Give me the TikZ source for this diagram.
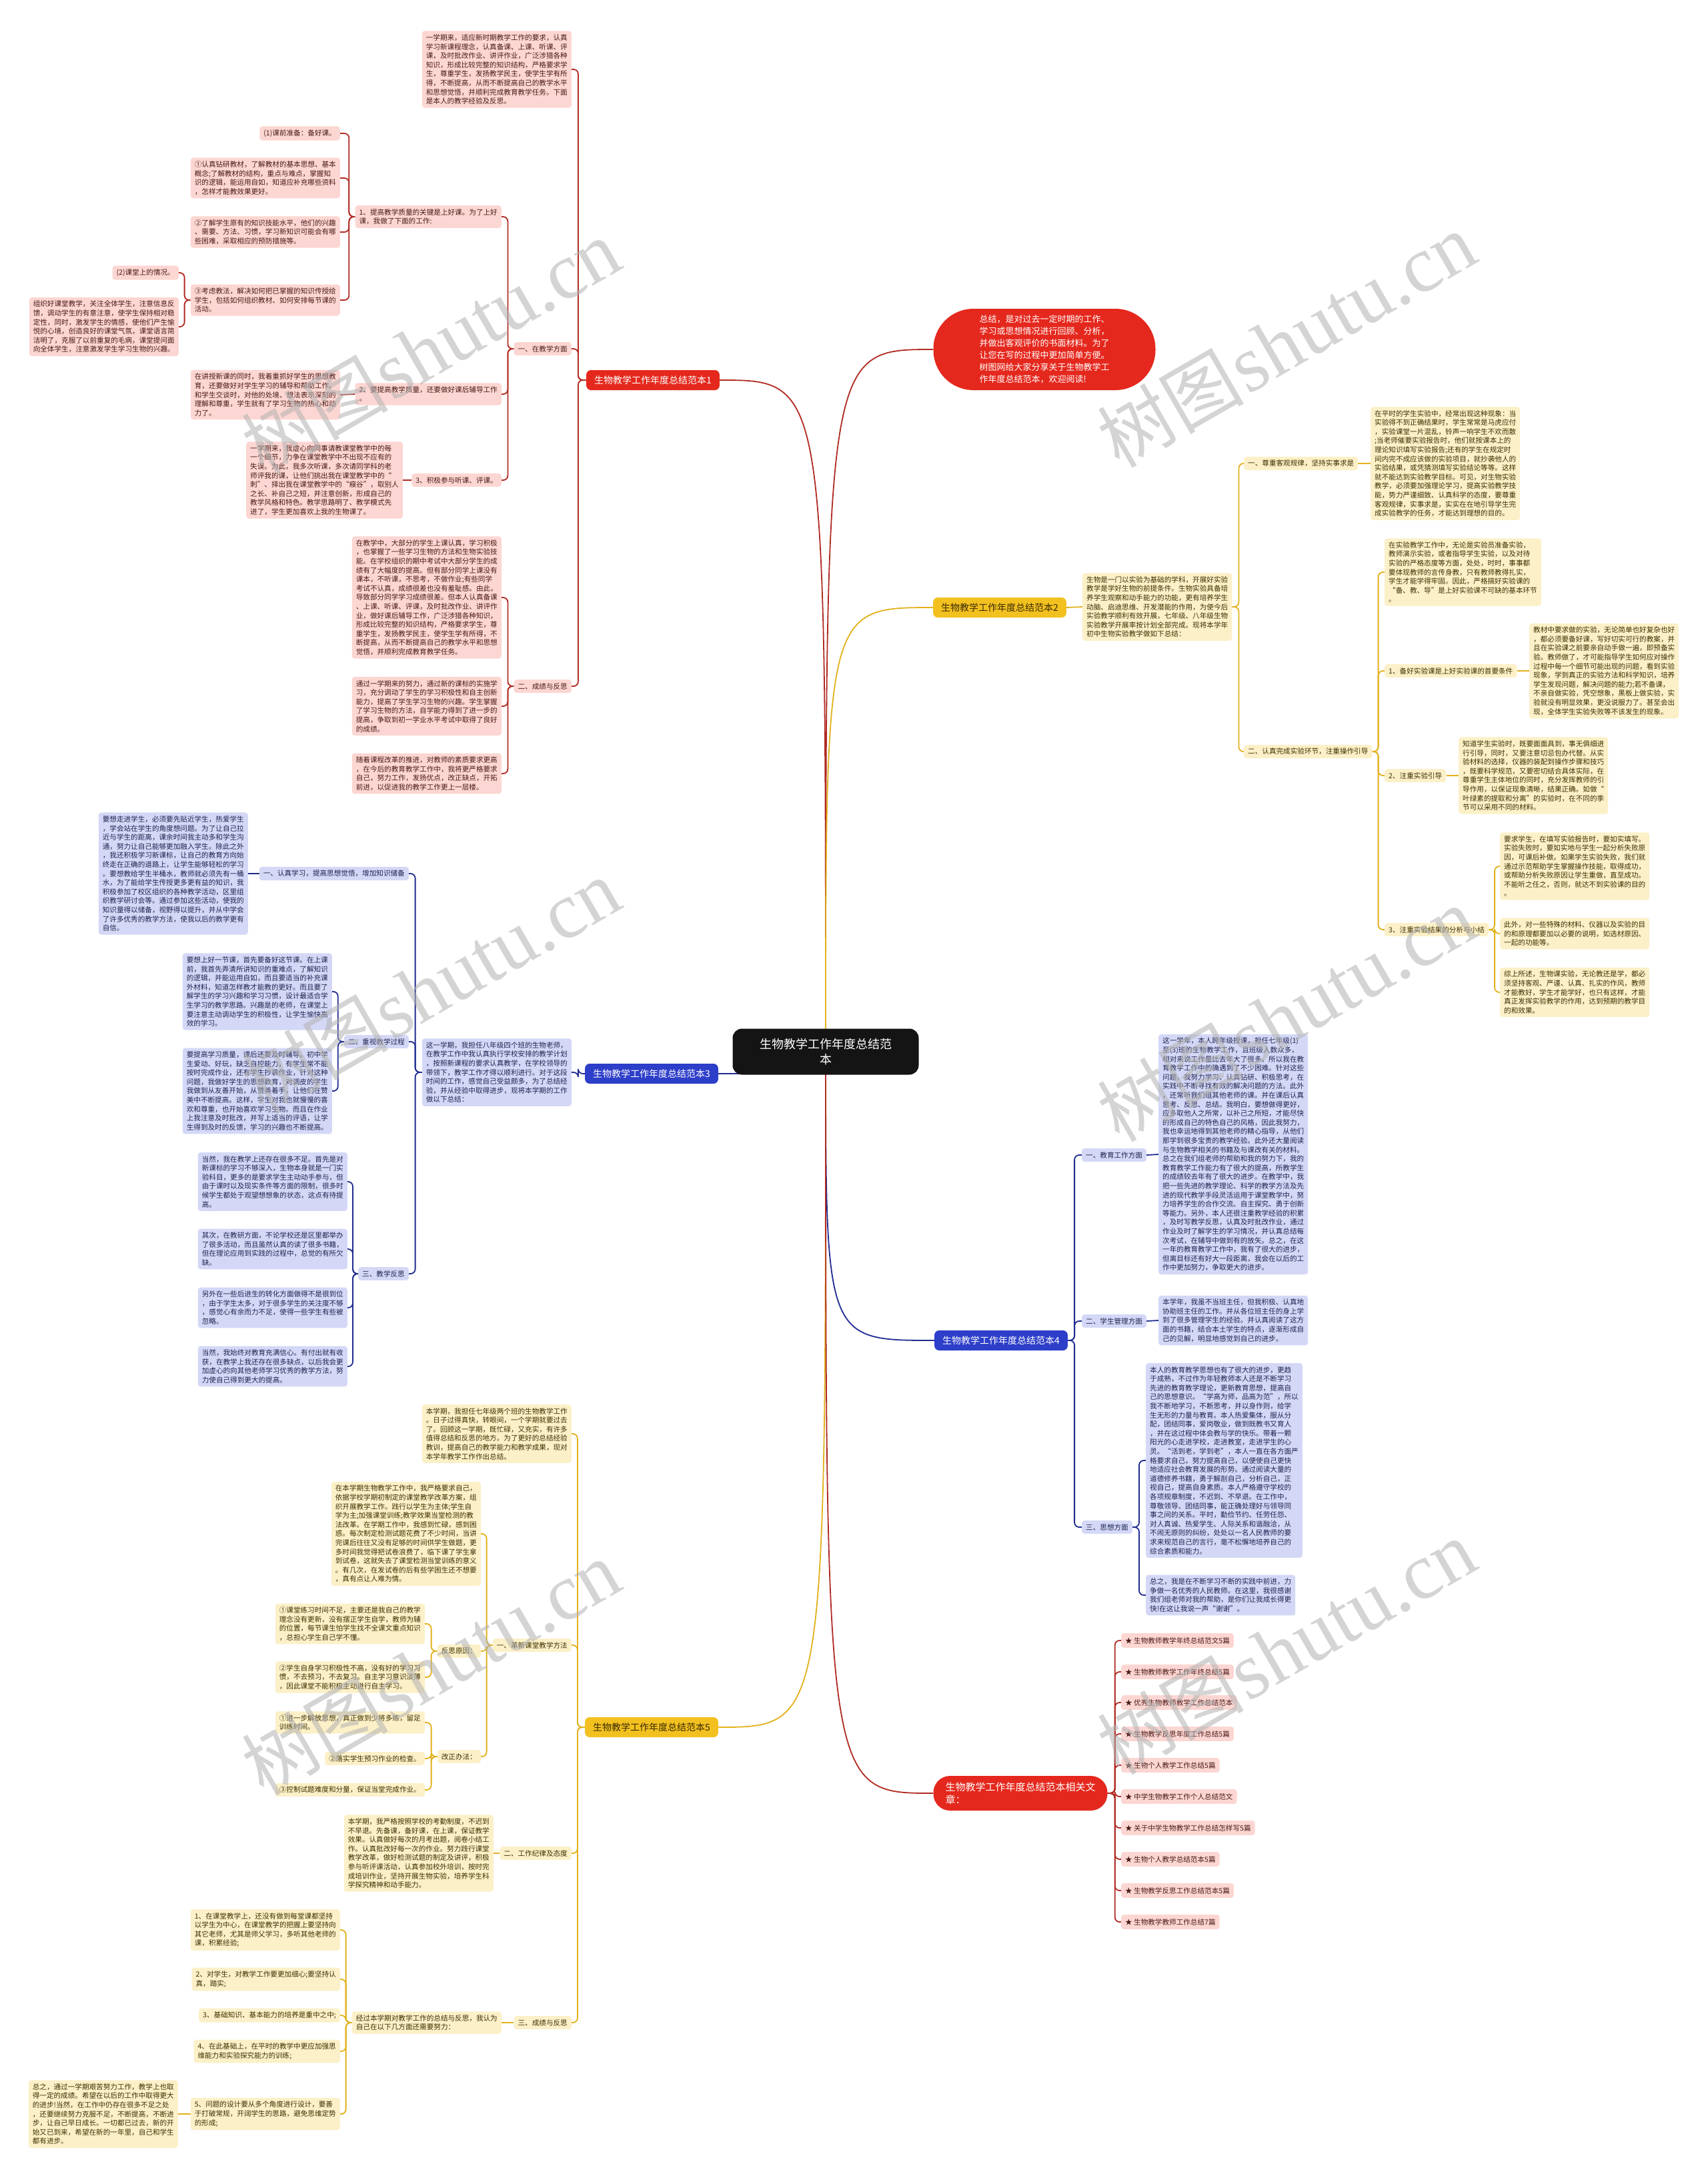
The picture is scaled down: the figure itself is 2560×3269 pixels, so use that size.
\documentclass[tikz,border=0pt]{standalone}
\usepackage{fontspec}
\newfontfamily\cjk{Noto Sans CJK SC}
\newfontfamily\wmserif{Liberation Serif}
\usetikzlibrary{backgrounds}
\definecolor{rootC}{HTML}{141414}
\definecolor{redB}{HTML}{E5281D}
\definecolor{redL}{HTML}{B02A22}
\definecolor{pinkF}{HTML}{FCD6D2}
\definecolor{pinkT}{HTML}{4A1A16}
\definecolor{goldB}{HTML}{F3C11F}
\definecolor{goldL}{HTML}{E2B11C}
\definecolor{goldT}{HTML}{3A2A05}
\definecolor{creamF}{HTML}{FCF0C8}
\definecolor{creamT}{HTML}{3D3000}
\definecolor{blueB}{HTML}{2D3EC9}
\definecolor{blueL}{HTML}{1F2B8F}
\definecolor{lavF}{HTML}{D4D8F6}
\definecolor{lavT}{HTML}{1E2350}
\begin{document}
\begin{tikzpicture}[x=1pt,y=-1pt,
 base/.style={rectangle,rounded corners=4pt,inner xsep=6pt,inner ysep=5pt,align=left,font=\cjk\fontsize{10.6}{13.6}\selectfont},
 pk/.style={base,fill=pinkF,text=pinkT},
 cr/.style={base,fill=creamF,text=creamT},
 lv/.style={base,fill=lavF,text=lavT},
 bn/.style={rectangle,rounded corners=7pt,minimum height=30pt,inner xsep=12pt,font=\cjk\fontsize{14}{16}\selectfont},
 lr/.style={draw=redL,line width=1.8pt,rounded corners=7pt},
 lg/.style={draw=goldL,line width=1.8pt,rounded corners=7pt},
 lb/.style={draw=blueL,line width=1.8pt,rounded corners=7pt},
 wm/.style={rotate=30,text=black!30,opacity=0.55,inner sep=0pt}]
\begin{pgfonlayer}{background}
\fill[white] (0,0) rectangle (2560,3269);
\end{pgfonlayer}
\useasboundingbox (0,0) rectangle (2560,3269);

% root and level 1
\node[fill=rootC,text=white,rounded corners=14pt,minimum width=279pt,minimum height=69pt,align=center,font=\cjk\fontsize{18}{23}\selectfont] (root) at (1238,1577) {生物教学工作年度总结范\\本};
\node[fill=redB,text=white,rounded corners=60pt,minimum width=333pt,minimum height=122pt,align=left,font=\cjk\fontsize{13}{18}\selectfont] (intro) at (1566,524) {总结，是对过去一定时期的工作、\\学习或思想情况进行回顾、分析，\\并做出客观评价的书面材料。为了\\让您在写的过程中更加简单方便。\\树图网给大家分享关于生物教学工\\作年度总结范本，欢迎阅读!};
\node[bn,fill=redB,text=white] (B1) at (979,570) {生物教学工作年度总结范本1};
\node[bn,fill=goldB,text=goldT] (B2) at (1499,911) {生物教学工作年度总结范本2};
\node[bn,fill=blueB,text=white] (B3) at (977,1610) {生物教学工作年度总结范本3};
\node[bn,fill=blueB,text=white] (B4) at (1501,2010) {生物教学工作年度总结范本4};
\node[bn,fill=goldB,text=goldT] (B5) at (977,2590) {生物教学工作年度总结范本5};
\node[fill=redB,text=white,rounded corners=25pt,minimum width=261pt,minimum height=52pt,align=left,font=\cjk\fontsize{15}{19}\selectfont] (B6) at (1530,2689) {生物教学工作年度总结范本相关文\\章：};

% ---------------- branch 1
\node[pk,anchor=east] (R1a) at (857,104) {一学期来，适应新时期教学工作的要求，认真\\学习新课程理念，认真备课、上课、听课、评\\课，及时批改作业、讲评作业，广泛涉猎各种\\知识，形成比较完整的知识结构，严格要求学\\生，尊重学生，发扬教学民主，使学生学有所\\得，不断提高，从而不断提高自己的教学水平\\和思想觉悟，并顺利完成教育教学任务。下面\\是本人的教学经验及反思。};
\node[pk,anchor=east] (R1b) at (857,523) {一、在教学方面};
\node[pk,anchor=east] (R1b1) at (752,325) {1、提高教学质量的关键是上好课。为了上好\\课，我做了下面的工作:};
\node[pk,anchor=east] (R1b1a) at (510,200) {(1)课前准备：备好课。};
\node[pk,anchor=east] (R1b1b) at (510,267) {①认真钻研教材，了解教材的基本思想、基本\\概念;了解教材的结构，重点与难点，掌握知\\识的逻辑，能运用自如，知道应补充哪些资料\\，怎样才能教效果更好。};
\node[pk,anchor=east] (R1b1c) at (510,348) {②了解学生原有的知识技能水平，他们的兴趣\\、需要、方法、习惯，学习新知识可能会有哪\\些困难，采取相应的预防措施等。};
\node[pk,anchor=east] (R1b1d) at (510,450) {③考虑教法，解决如何把已掌握的知识传授给\\学生，包括如何组织教材、如何安排每节课的\\活动。};
\node[pk,anchor=east] (R1b1d1) at (268,409) {(2)课堂上的情况。};
\node[pk,anchor=east] (R1b1d2) at (268,490) {组织好课堂教学，关注全体学生，注意信息反\\馈，调动学生的有意注意，使学生保持相对稳\\定性，同时，激发学生的情感，使他们产生愉\\悦的心境，创造良好的课堂气氛，课堂语言简\\洁明了，克服了以前重复的毛病，课堂提问面\\向全体学生，注意激发学生学习生物的兴趣。};
\node[pk,anchor=east] (R1b2) at (752,591) {2、要提高教学质量，还要做好课后辅导工作\\。};
\node[pk,anchor=east] (R1b2a) at (510,592) {在讲授新课的同时，我着重抓好学生的思想教\\育，还要做好对学生学习的辅导和帮助工作。\\和学生交谈时，对他的处境、想法表示深刻的\\理解和尊重，学生就有了学习生物的热心和动\\力了。};
\node[pk,anchor=east] (R1b3) at (752,720) {3、积极参与听课、评课。};
\node[pk,anchor=east] (R1b3a) at (604,720) {一学期来，我虚心向同事请教课堂教学中的每\\一个细节，力争在课堂教学中不出现不应有的\\失误。为此，我多次听课，多次请同学科的老\\师评我的课，让他们挑出我在课堂教学中的“\\刺”、择出我在课堂教学中的“瘊谷”，取别人\\之长、补自己之短，并注意创新，形成自己的\\教学风格和特色。教学思路明了、教学模式先\\进了，学生更加喜欢上我的生物课了。};
\node[pk,anchor=east] (R1c) at (857,1029) {二、成绩与反思};
\node[pk,anchor=east] (R1c1) at (752,896) {在教学中，大部分的学生上课认真，学习积极\\，也掌握了一些学习生物的方法和生物实验技\\能。在学校组织的期中考试中大部分学生的成\\绩有了大幅度的提高。但有部分同学上课没有\\课本，不听课，不思考，不做作业;有些同学\\考试不认真，成绩很差也没有羞耻感。由此，\\导致部分同学学习成绩很差。但本人认真备课\\、上课、听课、评课，及时批改作业、讲评作\\业，做好课后辅导工作，广泛涉猎各种知识，\\形成比较完整的知识结构，严格要求学生，尊\\重学生，发扬教学民主，使学生学有所得，不\\断提高，从而不断提高自己的教学水平和思想\\觉悟，并顺利完成教育教学任务。};
\node[pk,anchor=east] (R1c2) at (752,1059) {通过一学期来的努力，通过新的课标的实施学\\习，充分调动了学生的学习积极性和自主创新\\能力，提高了学生学习生物的兴趣。学生掌握\\了学习生物的方法，自学能力得到了进一步的\\提高，争取到初一学业水平考试中取得了良好\\的成绩。};
\node[pk,anchor=east] (R1c3) at (752,1160) {随着课程改革的推进，对教师的素质要求更高\\，在今后的教育教学工作中，我将更严格要求\\自己，努力工作，发扬优点，改正缺点，开拓\\前进，以促进我的教学工作更上一层楼。};

% ---------------- branch 2
\node[cr,anchor=west] (R2) at (1623,910) {生物是一门以实验为基础的学科，开展好实验\\教学是学好生物的前提条件。生物实验具备培\\养学生观察和动手能力的功能，更有培养学生\\动脑、启迪思维、开发潜能的作用，为使今后\\实验教学顺利有效开展，七年级、八年级生物\\实验教学开展率按计划全部完成。现将本学年\\初中生物实验教学做如下总结：};
\node[cr,anchor=west] (R2a) at (1865,695) {一、尊重客观规律，坚持实事求是};
\node[cr,anchor=west] (R2a1) at (2055,695) {在平时的学生实验中，经常出现这种现象：当\\实验得不到正确结果时，学生常常是马虎应付\\，实验课堂一片混乱，铃声一响学生不欢而散\\;当老师催要实验报告时，他们就按课本上的\\理论知识填写实验报告;还有的学生在规定时\\间内完不成应该做的实验项目，就抄袭他人的\\实验结果，或凭猜测填写实验结论等等。这样\\就不能达到实验教学目标。可见，对生物实验\\教学，必须要加强理论学习，提高实验教学技\\能，势力严谨细致、认真科学的态度，要尊重\\客观规律，实事求是，实实在在地引导学生完\\成实验教学的任务，才能达到理想的目的。};
\node[cr,anchor=west] (R2b) at (1865,1127) {二、认真完成实验环节，注重操作引导};
\node[cr,anchor=west] (R2b1) at (2076,858) {在实验教学工作中，无论是实验员准备实验，\\教师演示实验，或者指导学生实验，以及对待\\实验的严格态度等方面，处处，时时，事事都\\要体现教师的言传身教，只有教师教得扎实，\\学生才能学得牢固。因此，严格搞好实验课的\\“备、教、导”是上好实验课不可缺的基本环节\\。};
\node[cr,anchor=west] (R2b2) at (2076,1006) {1、备好实验课是上好实验课的首要条件};
\node[cr,anchor=west] (R2b2a) at (2293,1006) {教材中要求做的实验，无论简单也好复杂也好\\，都必须要备好课，写好切实可行的教案，并\\且在实验课之前要亲自动手做一遍，即预备实\\验。教师做了，才可能指导学生如何应对操作\\过程中每一个细节可能出现的问题，看到实验\\现象，学到真正的实验方法和科学知识，培养\\学生发现问题，解决问题的能力;若不备课，\\不亲自做实验，凭空想象，黑板上做实验，实\\验就没有明显效果，更没说服力了。甚至会出\\现，全体学生实验失败等不该发生的现象。};
\node[cr,anchor=west] (R2b3) at (2076,1163) {2、注重实验引导};
\node[cr,anchor=west] (R2b3a) at (2187,1163) {知道学生实验时，既要面面具到，事无俱细进\\行引导，同时，又要注意切忌包办代替。从实\\验材料的选择，仪器的装配到操作步骤和技巧\\，既要科学规范，又要密切结合具体实际，在\\尊重学生主体地位的同时，充分发挥教师的引\\导作用，以保证现象清晰，结果正确。如做“\\叶绿素的提取和分离”的实验时，在不同的季\\节可以采用不同的材料。};
\node[cr,anchor=west] (R2b4) at (2076,1394) {3、注重实验结果的分析与小结};
\node[cr,anchor=west] (R2b4a) at (2249,1299) {要求学生，在填写实验报告时，要如实填写。\\实验失败时，要如实地与学生一起分析失败原\\因，可课后补做。如果学生实验失败，我们就\\通过示范帮助学生掌握操作技能，取得成功，\\或帮助分析失败原因让学生重做，直至成功。\\不能听之任之，否则，就达不到实验课的目的\\。};
\node[cr,anchor=west] (R2b4b) at (2249,1400) {此外，对一些特殊的材料、仪器以及实验的目\\的和原理都要加以必要的说明，如选材原因、\\一起的功能等。};
\node[cr,anchor=west] (R2b4c) at (2249,1488) {综上所述，生物课实验，无论教还是学，都必\\须坚持客观、严谨、认真、扎实的作风，教师\\才能教好，学生才能学好，也只有这样，才能\\真正发挥实验教学的作用，达到预期的教学目\\的和效果。};

% ---------------- branch 3
\node[lv,anchor=east] (R3) at (857,1608) {这一学期，我担任八年级四个班的生物老师，\\在教学工作中我认真执行学校安排的教学计划\\，按照新课程的要求认真教学，在学校领导的\\带领下，教学工作才得以顺利进行。对于这段\\时间的工作，感觉自己受益颇多，为了总结经\\验，并从经验中取得进步，现将本学期的工作\\做以下总结：};
\node[lv,anchor=east] (R3a) at (613,1310) {一、认真学习，提高思想觉悟，增加知识储备};
\node[lv,anchor=east] (R3a1) at (372,1310) {要想走进学生，必须要先贴近学生，热爱学生\\，学会站在学生的角度想问题。为了让自己拉\\近与学生的距离，课余时间我主动多和学生沟\\通，努力让自己能够更加融入学生。除此之外\\，我还积极学习新课标，让自己的教育方向始\\终走在正确的道路上，让学生能够轻松的学习\\。要想教给学生半桶水，教师就必须先有一桶\\水，为了能给学生传授更多更有益的知识，我\\积极参加了校区组织的各种教学活动，区里组\\织教学研讨会等。通过参加这些活动，使我的\\知识量得以储备，视野得以提升，并从中学会\\了许多优秀的教学方法，使我以后的教学更有\\自信。};
\node[lv,anchor=east] (R3b) at (613,1562) {二、重视教学过程};
\node[lv,anchor=east] (R3b1) at (498,1487) {要想上好一节课，首先要备好这节课。在上课\\前，我首先弄清所讲知识的重难点，了解知识\\的逻辑，并能运用自如，而且要适当的补充课\\外材料，知道怎样教才能教的更好。而且要了\\解学生的学习兴趣和学习习惯，设计最适合学\\生学习的教学思路。兴趣是的老师，在课堂上\\要注意主动调动学生的积极性，让学生愉快高\\效的学习。};
\node[lv,anchor=east] (R3b2) at (498,1636) {要提高学习质量，课后还要及时辅导。初中学\\生爱动、好玩，缺乏自控能力，有学生常不能\\按时完成作业，还有学生抄袭作业，针对这种\\问题，我做好学生的思想教育，对调皮的学生\\我做到从友善开始，从赞美着手，让他们在赞\\美中不断提高。这样，学生对我也就慢慢的喜\\欢和尊重，也开始喜欢学习生物。而且在作业\\上我注意及时批改，并写上适当的评语，让学\\生得到及时的反馈，学习的兴趣也不断提高。};
\node[lv,anchor=east] (R3c) at (613,1910) {三、教学反思};
\node[lv,anchor=east] (R3c1) at (521,1772) {当然，我在教学上还存在很多不足。首先是对\\新课标的学习不够深入，生物本身就是一门实\\验科目，更多的是要求学生主动动手参与，但\\由于课时以及现实条件等方面的限制，很多时\\候学生都处于观望想想象的状态，这点有待提\\高。};
\node[lv,anchor=east] (R3c2) at (521,1873) {其次，在教研方面，不论学校还是区里都举办\\了很多活动，而且虽然认真的读了很多书籍，\\但在理论应用到实践的过程中，总觉的有所欠\\缺。};
\node[lv,anchor=east] (R3c3) at (521,1961) {另外在一些后进生的转化方面做得不是很到位\\，由于学生太多，对于很多学生的关注度不够\\，感觉心有余而力不足，使得一些学生有些被\\忽略。};
\node[lv,anchor=east] (R3c4) at (521,2049) {当然，我始终对教育充满信心。有付出就有收\\获，在教学上我还存在很多缺点，以后我会更\\加虚心的向其他老师学习优秀的教学方法，努\\力使自己得到更大的提高。};

% ---------------- branch 4
\node[lv,anchor=west] (R4a) at (1622,1732) {一、教育工作方面};
\node[lv,anchor=west] (R4a1) at (1737,1731) {这一学年，本人跨年级授课，担任七年级(1)\\至(3)班的生物教学工作，且班级人数众多，\\相对来说工作量比去年大了很多。所以我在教\\育教学工作中的确遇到了不少困难。针对这些\\问题，我努力学习、认真钻研、积极思考，在\\实践中不断寻找有效的解决问题的方法。此外\\，还常听我们组其他老师的课。并在课后认真\\思考、反思、总结。我明白，要想做得更好，\\应多取他人之所常，以补己之所短，才能尽快\\的形成自己的特色自己的风格，因此我努力，\\我也幸运地得到其他老师的精心指导，从他们\\那学到很多宝贵的教学经验。此外还大量阅读\\与生物教学相关的书籍及与课改有关的材料。\\总之在我们组老师的帮助和我的努力下，我的\\教育教学工作能力有了很大的提高，所教学生\\的成绩较去年有了很大的进步。在教学中，我\\把一些先进的教学理论、科学的教学方法及先\\进的现代教学手段灵活运用于课堂教学中，努\\力培养学生的合作交流、自主探究、勇于创新\\等能力。另外，本人还很注重教学经验的积累\\，及时写教学反思，认真及时批改作业，通过\\作业及时了解学生的学习情况，并认真总结每\\次考试，在辅导中做到有的放矢。总之，在这\\一年的教育教学工作中，我有了很大的进步，\\但离目标还有好大一段距离，我会在以后的工\\作中更加努力，争取更大的进步。};
\node[lv,anchor=west] (R4b) at (1622,1981) {二、学生管理方面};
\node[lv,anchor=west] (R4b1) at (1737,1980) {本学年，我虽不当班主任，但我积极、认真地\\协助班主任的工作。并从各位班主任的身上学\\到了很多管理学生的经验。并认真阅读了这方\\面的书籍，结合本土学生的特点，逐渐形成自\\己的见解，明显地感觉到自己的进步。};
\node[lv,anchor=west] (R4c) at (1622,2290) {三、思想方面};
\node[lv,anchor=west] (R4c1) at (1718,2190) {本人的教育教学思想也有了很大的进步，更趋\\于成熟，不过作为年轻教师本人还是不断学习\\先进的教育教学理论，更新教育思想，提高自\\己的思想意识。“学高为师，品高为范”，所以\\我不断地学习，不断思考，并以身作则，给学\\生无形的力量与教育。本人热爱集体，服从分\\配，团结同事，爱岗敬业，做到既教书又育人\\，并在这过程中体会教与学的快乐。带着一颗\\阳光的心走进学校，走进教室，走进学生的心\\灵。“活到老，学到老”，本人一直在各方面严\\格要求自己，努力提高自己，以便使自己更快\\地适应社会教育发展的形势。通过阅读大量的\\道德修养书籍，勇于解剖自己，分析自己，正\\视自己，提高自身素质。本人严格遵守学校的\\各项规章制度，不迟到、不早退。在工作中，\\尊敬领导、团结同事，能正确处理好与领导同\\事之间的关系。平时，勤俭节约、任劳任怨、\\对人真诚、热爱学生、人际关系和谐融洽，从\\不闹无原则的纠纷，处处以一名人民教师的要\\求来规范自己的言行，毫不松懈地培养自己的\\综合素质和能力。};
\node[lv,anchor=west] (R4c2) at (1718,2392) {总之，我是在不断学习不断的实践中前进，力\\争做一名优秀的人民教师。在这里，我很感谢\\我们组老师对我的帮助，是你们让我成长得更\\快!在这让我说一声“谢谢”。};

% ---------------- branch 5
\node[cr,anchor=east] (R5a) at (857,2150) {本学期，我担任七年级两个班的生物教学工作\\。日子过得真快，转眼间，一个学期就要过去\\了。回顾这一学期，既忙碌，又充实，有许多\\值得总结和反思的地方。为了更好的总结经验\\教训，提高自己的教学能力和教学成果，现对\\本学年教学工作作出总结。};
\node[cr,anchor=east] (R5b) at (857,2467) {一、革新课堂教学方法};
\node[cr,anchor=east] (R5b1) at (721,2300) {在本学期生物教学工作中，我严格要求自己，\\依据学校学期初制定的课堂教学改革方案，组\\织开展教学工作。践行以学生为主体;学生自\\学为主;加强课堂训练;教学效果当堂检测的教\\法改革。在学期工作中，我感到忙碌，感到困\\惑。每次制定检测试题花费了不少时间，当讲\\完课后往往又没有足够的时间供学生做题，更\\多时间我觉得把试卷浪费了，临下课了学生拿\\到试卷，这就失去了课堂检测当堂训练的意义\\。有几次，在发试卷的后有些学困生还不想要\\，真有点让人难为情。};
\node[cr,anchor=east] (R5b2) at (721,2476) {反思原因：};
\node[cr,anchor=east] (R5b2a) at (637,2435) {①课堂练习时间不足，主要还是我自己的教学\\理念没有更新，没有摆正学生自学，教师为辅\\的位置，每节课生怕学生找不全课文重点知识\\，总担心学生自己学不懂。};
\node[cr,anchor=east] (R5b2b) at (637,2515) {②学生自身学习积极性不高，没有好的学习习\\惯，不去预习，不去复习。自主学习意识淡薄\\，因此课堂不能积极主动进行自主学习。};
\node[cr,anchor=east] (R5b3) at (721,2634) {改正办法：};
\node[cr,anchor=east] (R5b3a) at (637,2583) {①进一步解放思想，真正做到少将多练，留足\\训练时间。};
\node[cr,anchor=east] (R5b3b) at (637,2637) {②落实学生预习作业的检查。};
\node[cr,anchor=east] (R5b3c) at (637,2684) {③控制试题难度和分量，保证当堂完成作业。};
\node[cr,anchor=east] (R5c) at (857,2779) {二、工作纪律及态度};
\node[cr,anchor=east] (R5c1) at (740,2779) {本学期，我严格按照学校的考勤制度，不迟到\\不早退。先备课，备好课，在上课，保证教学\\效果。认真做好每次的月考出题，阅卷小结工\\作。认真批改好每一次的作业。努力践行课堂\\教学改革，做好检测试题的制定及讲评，积极\\参与听评课活动，认真参加校外培训，按时完\\成培训作业，坚持开展生物实验，培养学生科\\学探究精神和动手能力。};
\node[cr,anchor=east] (R5d) at (857,3033) {三、成绩与反思};
\node[cr,anchor=east] (R5d1) at (752,3033) {经过本学期对教学工作的总结与反思，我认为\\自己在以下几方面还需要努力：};
\node[cr,anchor=east] (R5d1a) at (510,2894) {1、在课堂教学上，还没有做到每堂课都坚持\\以学生为中心，在课堂教学的把握上要坚持向\\其它老师，尤其是师父学习，多听其他老师的\\课，积累经验;};
\node[cr,anchor=east] (R5d1b) at (510,2968) {2、对学生，对教学工作要更加细心;要坚持认\\真，踏实;};
\node[cr,anchor=east] (R5d1c) at (510,3022) {3、基础知识、基本能力的培养是重中之中;};
\node[cr,anchor=east] (R5d1d) at (510,3076) {4、在此基础上，在平时的教学中更应加强思\\维能力和实验探究能力的训练;};
\node[cr,anchor=east] (R5d1e) at (510,3170) {5、问题的设计要从多个角度进行设计，要善\\于打破常规，开阔学生的思路，避免思维定势\\的形成;};
\node[cr,anchor=east] (R5d1e1) at (267,3170) {总之，通过一学期艰苦努力工作，教学上也取\\得一定的成绩。希望在以后的工作中取得更大\\的进步!当然，在工作中仍存在很多不足之处\\，还要继续努力克服不足，不断提高，不断进\\步，让自己早日成长。一切都已过去，新的开\\始又已到来，希望在新的一年里，自己和学生\\都有进步。};

% ---------------- branch 6
\foreach \i/\yy/\tt in {1/2460/生物教师教学年终总结范文5篇,2/2507/生物教师教学工作年终总结5篇,3/2553/优秀生物教师教学工作总结范本,4/2600/生物教学反思年度工作总结5篇,5/2647/生物个人教学工作总结5篇,6/2694/中学生物教学工作个人总结范文,7/2741/关于中学生物教学工作总结怎样写5篇,8/2788/生物个人教学总结范本5篇,9/2835/生物教学反思工作总结范本5篇,10/2882/生物教学教师工作总结7篇}
  \node[pk,anchor=west,inner ysep=6pt] (S\i) at (1681,\yy) {★ \tt};

% ---------------- connectors
\begin{pgfonlayer}{background}
\draw[redL,line width=1.8pt] (root.center) .. controls (root.center |- intro.west) .. (intro.west);
\draw[redL,line width=1.8pt] (root.center) .. controls (root.center |- B1.east) .. (B1.east);
\draw[goldL,line width=1.8pt] (root.center) .. controls (root.center |- B2.west) .. (B2.west);
\draw[blueL,line width=1.8pt] (root.center) -- (root.center |- B3.east) -- (B3.east);
\draw[blueL,line width=1.8pt] (root.center) .. controls (root.center |- B4.west) .. (B4.west);
\draw[goldL,line width=1.8pt] (root.center) .. controls (root.center |- B5.east) .. (B5.east);
\draw[redL,line width=1.8pt] (root.center) .. controls (root.center |- B6.west) .. (B6.west);
% branch 1
\foreach \c in {R1a,R1b,R1c} \draw[lr] (B1.west) -- ++(-12,0) |- (\c.east);
\foreach \c in {R1b1,R1b2,R1b3} \draw[lr] (R1b.west) -- ++(-9,0) |- (\c.east);
\foreach \c in {R1b1a,R1b1b,R1b1c,R1b1d} \draw[lr] (R1b1.west) -- ++(-9,0) |- (\c.east);
\foreach \c in {R1b1d1,R1b1d2} \draw[lr] (R1b1d.west) -- ++(-9,0) |- (\c.east);
\draw[lr] (R1b2.west) -- (R1b2a.east);
\draw[lr] (R1b3.west) -- (R1b3a.east);
\foreach \c in {R1c1,R1c2,R1c3} \draw[lr] (R1c.west) -- ++(-9,0) |- (\c.east);
% branch 2
\draw[lg] (B2.east) -- (R2.west);
\foreach \c in {R2a,R2b} \draw[lg] (R2.east) -- ++(10,0) |- (\c.west);
\draw[lg] (R2a.east) -- (R2a1.west);
\foreach \c in {R2b1,R2b2,R2b3,R2b4} \draw[lg] (R2b.east) -- ++(9,0) |- (\c.west);
\draw[lg] (R2b2.east) -- (R2b2a.west);
\draw[lg] (R2b3.east) -- (R2b3a.west);
\foreach \c in {R2b4a,R2b4b,R2b4c} \draw[lg] (R2b4.east) -- ++(9,0) |- (\c.west);
% branch 3
\draw[lb] (B3.west) -- ++(-10,0) |- (R3.east);
\foreach \c in {R3a,R3b,R3c} \draw[lb] (R3.west) -- ++(-10,0) |- (\c.east);
\draw[lb] (R3a.west) -- (R3a1.east);
\foreach \c in {R3b1,R3b2} \draw[lb] (R3b.west) -- ++(-9,0) |- (\c.east);
\foreach \c in {R3c1,R3c2,R3c3,R3c4} \draw[lb] (R3c.west) -- ++(-8,0) |- (\c.east);
% branch 4
\foreach \c in {R4a,R4b,R4c} \draw[lb] (B4.east) -- ++(10,0) |- (\c.west);
\draw[lb] (R4a.east) -- (R4a1.west);
\draw[lb] (R4b.east) -- (R4b1.west);
\foreach \c in {R4c1,R4c2} \draw[lb] (R4c.east) -- ++(10,0) |- (\c.west);
% branch 5
\foreach \c in {R5a,R5b,R5c,R5d} \draw[lg] (B5.west) -- ++(-11,0) |- (\c.east);
\foreach \c in {R5b1,R5b2,R5b3} \draw[lg] (R5b.west) -- ++(-9,0) |- (\c.east);
\foreach \c in {R5b2a,R5b2b} \draw[lg] (R5b2.west) -- ++(-9,0) |- (\c.east);
\foreach \c in {R5b3a,R5b3b,R5b3c} \draw[lg] (R5b3.west) -- ++(-9,0) |- (\c.east);
\draw[lg] (R5c.west) -- (R5c1.east);
\draw[lg] (R5d.west) -- (R5d1.east);
\foreach \c in {R5d1a,R5d1b,R5d1c,R5d1d,R5d1e} \draw[lg] (R5d1.west) -- ++(-9,0) |- (\c.east);
\draw[lg] (R5d1e.west) -- (R5d1e1.east);
% branch 6
\foreach \i in {1,...,10} \draw[lr] (B6.east) -- ++(11,0) |- (S\i.west);
\end{pgfonlayer}

% watermarks
\foreach \wx/\wy in {646/521,1929/511,646/1480,1929/1522,646/2502,1929/2471}
  \node[wm] at (\wx,\wy) {{\cjk\fontsize{110}{120}\selectfont 树图} {\wmserif\fontsize{120}{130}\selectfont shutu.cn}};
\end{tikzpicture}
\end{document}
